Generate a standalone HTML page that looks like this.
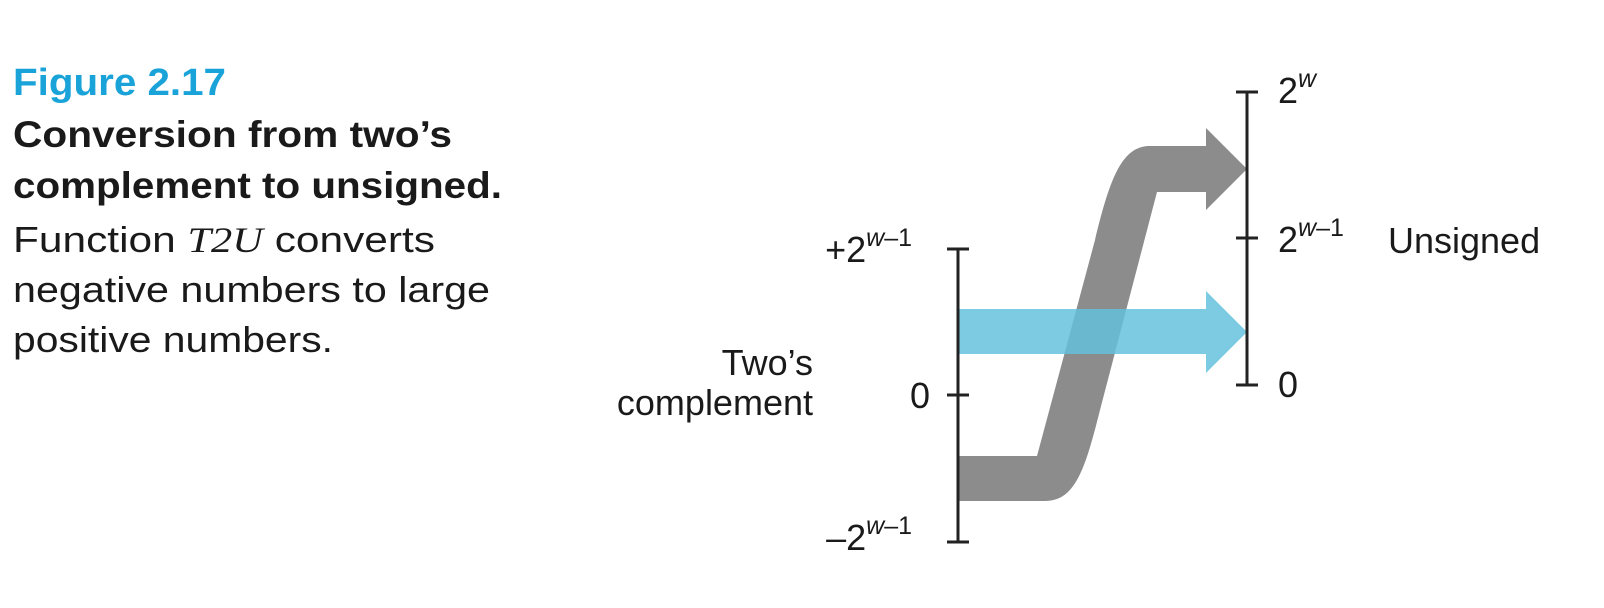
<!DOCTYPE html>
<html><head><meta charset="utf-8"><style>html,body{margin:0;padding:0;background:#fff}svg{display:block}</style></head>
<body>
<svg width="1604" height="608" viewBox="0 0 1604 608" xmlns="http://www.w3.org/2000/svg">
<g font-family="Liberation Sans, sans-serif">
<text x="13" y="95" font-size="38" font-weight="bold" fill="#1aa3d9" textLength="213" lengthAdjust="spacingAndGlyphs">Figure 2.17</text>
<text x="13" y="147" font-size="37" font-weight="bold" fill="#1a1a1a" textLength="439" lengthAdjust="spacingAndGlyphs">Conversion from two’s</text>
<text x="13" y="198" font-size="37" font-weight="bold" fill="#1a1a1a" textLength="489" lengthAdjust="spacingAndGlyphs">complement to unsigned.</text>
<text x="13" y="252" font-size="36" fill="#1a1a1a" textLength="422" lengthAdjust="spacingAndGlyphs">Function <tspan font-family="Liberation Serif, serif" font-style="italic">T2U</tspan> converts</text>
<text x="13" y="302" font-size="36" fill="#1a1a1a" textLength="477" lengthAdjust="spacingAndGlyphs">negative numbers to large</text>
<text x="13" y="352" font-size="36" fill="#1a1a1a" textLength="320" lengthAdjust="spacingAndGlyphs">positive numbers.</text>
</g>
<path d="M958,456 L1037,456 L1095,240 C1110,178 1122,146 1150,146 L1206,146 L1206,128 L1247,169 L1206,210 L1206,192 L1157,192 L1100,410 C1085,470 1075,501 1045,501 L958,501 Z" fill="#8c8c8c"/>
<path d="M958,309 L1206,309 L1206,291 L1247,332 L1206,373 L1206,354 L958,354 Z" fill="rgba(100,192,222,0.84)"/>
<g stroke="#222" stroke-width="3" fill="none">
<line x1="958" y1="249" x2="958" y2="542"/>
<line x1="947" y1="249" x2="969" y2="249"/>
<line x1="947" y1="395" x2="969" y2="395"/>
<line x1="947" y1="542" x2="969" y2="542"/>
<line x1="1247" y1="92" x2="1247" y2="385"/>
<line x1="1236" y1="92" x2="1258" y2="92"/>
<line x1="1236" y1="238" x2="1258" y2="238"/>
<line x1="1236" y1="385" x2="1258" y2="385"/>
</g>
<g font-family="Liberation Sans, sans-serif" fill="#1a1a1a" font-size="36">
<text x="912" y="262" text-anchor="end">+2<tspan font-size="25" dy="-16"><tspan font-style="italic">w</tspan>–1</tspan></text>
<text x="930" y="408" text-anchor="end">0</text>
<text x="912" y="550" text-anchor="end">–2<tspan font-size="25" dy="-16"><tspan font-style="italic">w</tspan>–1</tspan></text>
<text x="813" y="375" text-anchor="end">Two’s</text>
<text x="813" y="415" text-anchor="end">complement</text>
<text x="1278" y="103">2<tspan font-size="25" dy="-16" font-style="italic">w</tspan></text>
<text x="1278" y="252">2<tspan font-size="25" dy="-16"><tspan font-style="italic">w</tspan>–1</tspan></text>
<text x="1278" y="397">0</text>
<text x="1388" y="253">Unsigned</text>
</g>
</svg>
</body></html>
